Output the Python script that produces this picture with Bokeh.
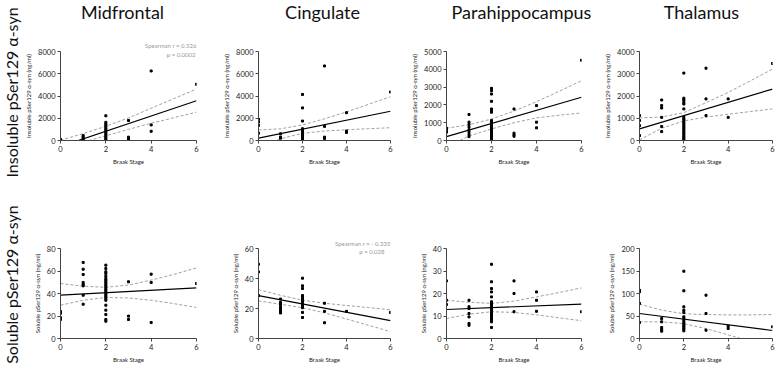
from bokeh.plotting import figure
from bokeh.models import Range1d, FixedTicker, SingleIntervalTicker, Title, Label
from bokeh.layouts import column, row
from bokeh.embed import file_html
from bokeh.resources import INLINE
import math

# ---------------- data ----------------
regions = ["Midfrontal", "Cingulate", "Parahippocampus", "Thalamus"]
row_labels = ["Insoluble pSer129 \u03b1-syn", "Soluble pSer129 \u03b1-syn"]
x_label = "Braak Stage"
y_labels = ["Insoluble pSer129 \u03b1-syn (ng/ml)", "Soluble pSer129 \u03b1-syn (ng/ml)"]
x_ticks = [0, 2, 4, 6]
ci_x = [0, 1, 2, 3, 4, 5, 6]
fit_x = [0, 6]

# Insoluble, Midfrontal
mid_ins_x = [0, 1, 1, 1, 1, 2, 2, 2, 2, 2, 2, 2, 2, 2, 2, 2, 2, 2, 3, 3, 3, 4, 4, 4, 6]
mid_ins_y = [100, 440, 300, 150, 60, 2220, 1630, 1480, 1330, 1190, 1040, 890, 740, 590, 440, 300, 150, 0,
             1800, 300, 120, 6250, 1400, 830, 5050]
mid_ins_fit = [-541, 3570]
mid_ins_up = [20, 620, 1280, 2030, 2900, 3760, 4620]
mid_ins_lo = [-900, -150, 420, 1000, 1550, 2050, 2550]

# Insoluble, Cingulate
cin_ins_x = [0, 0, 0, 0, 1, 1, 1, 2, 2, 2, 2, 2, 2, 2, 2, 2, 2, 2, 3, 3, 3, 3, 4, 4, 4, 6]
cin_ins_y = [1900, 1660, 1360, 660, 600, 300, 210, 4140, 2930, 1750, 1060, 900, 755, 600, 450, 300, 210, 90,
             6700, 1270, 300, 180, 2500, 850, 725, 4360]
cin_ins_fit = [210, 2630]
cin_ins_up = [950, 1050, 1400, 1950, 2570, 3250, 3940]
cin_ins_lo = [-500, 150, 650, 850, 970, 1060, 1150]

# Insoluble, Parahippocampus
par_ins_x = [0, 0, 0, 1, 1, 1, 1, 1, 1, 1, 1,
             2, 2, 2, 2, 2, 2, 2, 2, 2, 2, 2, 2, 2, 2, 2, 2, 2, 2, 2, 2,
             3, 3, 3, 3, 4, 4, 4, 6]
par_ins_y = [690, 560, 470, 1460, 1030, 900, 750, 600, 470, 340, 220,
             2930, 2800, 2610, 2200, 1770, 1680, 1590, 1120, 1030, 930, 840, 750, 650, 560, 470, 370, 280, 190, 90, 40,
             1770, 410, 320, 240, 1960, 1030, 710, 4510]
par_ins_fit = [220, 2430]
par_ins_up = [690, 880, 1210, 1650, 2180, 2760, 3360]
par_ins_lo = [-360, 250, 650, 1000, 1270, 1420, 1550]

# Insoluble, Thalamus
tha_ins_x = [0, 0, 0, 0, 1, 1, 1, 1, 1, 1,
             2, 2, 2, 2, 2, 2, 2, 2, 2, 2, 2, 2, 2, 2, 2, 2, 2, 2, 2, 2, 2,
             3, 3, 3, 4, 4, 6]
tha_ins_y = [1120, 900, 670, 220, 1820, 1570, 1460, 1040, 630, 400,
             3030, 1900, 1820, 1720, 1640, 1420, 1040, 970, 900, 820, 750, 670, 600, 520, 450, 370, 300, 220, 150, 75, 30,
             3250, 1870, 1120, 1870, 1040, 3460]
tha_ins_fit = [520, 2310]
tha_ins_up = [1010, 1060, 1250, 1700, 2160, 2680, 3210]
tha_ins_lo = [30, 550, 880, 1050, 1180, 1300, 1420]

# Soluble, Midfrontal
mid_sol_x = [0, 0, 0, 0, 1, 1, 1, 1, 1, 1, 1, 1,
             2, 2, 2, 2, 2, 2, 2, 2, 2, 2, 2, 2, 2, 2, 2, 2, 2, 2, 2, 2, 2, 2, 2, 2,
             3, 3, 3, 4, 4, 4, 6]
mid_sol_y = [24, 22.5, 18.5, 17, 67.6, 61.6, 56.9, 49.8, 48, 46.8, 38.5, 30.5,
             65.2, 62.2, 59.3, 57.8, 55.4, 53.3, 51.9, 50.4, 48.9, 47.4, 45.9, 44.4, 43, 41.5, 40, 38.5, 37, 35.6,
             34, 29.6, 25.2, 21.3, 16.9, 15.4,
             50.4, 19.9, 16.9, 57.2, 49.8, 14.2, 48.9]
mid_sol_fit = [38.5, 45]
mid_sol_up = [48.9, 46.5, 45.5, 47.5, 51.9, 57, 62.8]
mid_sol_lo = [29.6, 34, 36.5, 36, 34, 31, 27.6]

# Soluble, Cingulate
cin_sol_x = [0, 0, 0, 1, 1, 1, 1, 1, 1, 1, 1,
             2, 2, 2, 2, 2, 2, 2, 2, 2, 2, 2, 2, 2,
             3, 3, 3, 4, 6]
cin_sol_y = [49.5, 44.4, 28.6, 26.3, 24, 22.8, 21.2, 20, 19.3, 18.1, 17,
             40.2, 35.1, 33.3, 28.6, 27.4, 26.3, 24.9, 23.5, 22.8, 21.6, 20.5, 17.4, 14,
             23.5, 18.1, 10.5, 18.1, 17.4]
cin_sol_fit = [28.6, 11.9]
cin_sol_up = [32.6, 28.8, 25.5, 23.5, 22.0, 20.6, 19.2]
cin_sol_lo = [25.1, 22.8, 20.5, 17.1, 13.0, 8.8, 4.6]

# Soluble, Parahippocampus
par_sol_x = [0, 0, 0, 1, 1, 1, 1, 1, 1, 1,
             2, 2, 2, 2, 2, 2, 2, 2, 2, 2, 2, 2, 2, 2, 2, 2, 2, 2, 2,
             3, 3, 3, 4, 4, 4, 6]
par_sol_y = [25.6, 17, 15.1, 17, 14.1, 13.3, 11.1, 9.6, 6.7, 5.9,
             33, 25.2, 22.2, 20.7, 18.5, 16.3, 15.6, 14.8, 14.1, 13.3, 12.6, 11.9, 11.1, 10.4, 9.6, 8.9, 8.1, 7.4, 4.9,
             25.6, 20, 11.9, 20.7, 17, 12.1, 11.9]
par_sol_fit = [12.9, 15.3]
par_sol_up = [17, 16.1, 15.6, 16.6, 18.5, 20.4, 22.5]
par_sol_lo = [8.9, 10.8, 11.9, 11.6, 10.5, 9.2, 7.9]

# Soluble, Thalamus
tha_sol_x = [0, 0, 0, 0, 1, 1, 1, 1, 1,
             2, 2, 2, 2, 2, 2, 2, 2, 2, 2, 2, 2, 2, 2,
             3, 3, 3, 4, 4, 6]
tha_sol_y = [107, 104, 78, 35.6, 44.4, 37, 24.4, 20, 16.3,
             149.6, 106, 70.4, 63, 57.8, 48.1, 44.4, 39.3, 34.8, 31.1, 27.4, 24.4, 20.7, 17,
             96.3, 55.6, 18.5, 27.4, 22.2, 25.9]
tha_sol_fit = [55.6, 17.8]
tha_sol_up = [76.3, 63, 55, 53, 52.5, 52.5, 53.3]
tha_sol_lo = [37, 37, 33, 22, 8, -6, -20]

y_tops = [[8000, 8000, 5000, 4000], [80, 60, 40, 200]]
y_steps = [[2000, 2000, 1000, 1000], [20, 20, 10, 50]]
stats = {(0, 0): ["Spearman r = 0.526", "p = 0.0002"],
         (1, 1): ["Spearman r = - 0.335", "p = 0.028"]}

panels = [
    [(mid_ins_x, mid_ins_y, mid_ins_fit, mid_ins_up, mid_ins_lo),
     (cin_ins_x, cin_ins_y, cin_ins_fit, cin_ins_up, cin_ins_lo),
     (par_ins_x, par_ins_y, par_ins_fit, par_ins_up, par_ins_lo),
     (tha_ins_x, tha_ins_y, tha_ins_fit, tha_ins_up, tha_ins_lo)],
    [(mid_sol_x, mid_sol_y, mid_sol_fit, mid_sol_up, mid_sol_lo),
     (cin_sol_x, cin_sol_y, cin_sol_fit, cin_sol_up, cin_sol_lo),
     (par_sol_x, par_sol_y, par_sol_fit, par_sol_up, par_sol_lo),
     (tha_sol_x, tha_sol_y, tha_sol_fit, tha_sol_up, tha_sol_lo)],
]

# ---------------- layout / style ----------------
FONT = "Lato"
LABEL_W = 22          # strip with the row labels
TITLE_H = 22          # strip with the column titles
TOTAL_H = 370
col_frame = [136, 132, 135, 133]
col_left = [38, 58, 52, 54]
col_right = [4, 4, 4, 5]
row_frame = [89, 90]
row_top = [29, 63]
row_bottom = [45, 32]
row_label_y = [278, 86]                     # centre of each row label, px from strip bottom
title_cx = [100, 300, 499, 679]             # centre of each column title, px from strip left
AXIS_COL = "#444444"
CI_COL = "#a0a0a0"
STAT_COL = "#999999"
GRID_W = sum(col_left) + sum(col_frame) + sum(col_right)

# strip with the two big row labels
lab = figure(width=LABEL_W, height=TOTAL_H, output_backend="svg", toolbar_location=None,
             x_range=Range1d(0, LABEL_W), y_range=Range1d(0, TOTAL_H),
             x_axis_type=None, y_axis_type=None, min_border=0, title=None)
lab.outline_line_color = None
lab.grid.visible = False
for txt, yp in zip(row_labels, row_label_y):
    lab.add_layout(Label(x=11, y=yp, text=txt, angle=math.pi / 2, text_align="center",
                         text_baseline="middle", text_font=FONT, text_font_size="16px",
                         text_color="#111111"))

# strip with the column titles
tit = figure(width=GRID_W, height=TITLE_H, output_backend="svg", toolbar_location=None,
             x_range=Range1d(0, GRID_W), y_range=Range1d(0, TITLE_H),
             x_axis_type=None, y_axis_type=None, min_border=0, title=None)
tit.outline_line_color = None
tit.grid.visible = False
for txt, xc in zip(regions, title_cx):
    tit.add_layout(Label(x=xc, y=TITLE_H - 11, text=txt, text_align="center", text_baseline="middle",
                         text_font=FONT, text_font_size="18px", text_color="#111111"))

rows = [tit]
for r in range(2):
    figs = []
    for c in range(4):
        xs, ys, fit, up, lo = panels[r][c]
        p = figure(frame_width=col_frame[c], frame_height=row_frame[r],
                   output_backend="svg", toolbar_location=None,
                   x_range=Range1d(0, 6), y_range=Range1d(0, y_tops[r][c]), title=None,
                   min_border_left=col_left[c], min_border_right=col_right[c],
                   min_border_top=row_top[r], min_border_bottom=row_bottom[r])
        p.outline_line_color = None
        p.grid.visible = False
        p.xaxis.ticker = FixedTicker(ticks=x_ticks)
        p.yaxis.ticker = SingleIntervalTicker(interval=y_steps[r][c], num_minor_ticks=0)
        for ax in (p.xaxis[0], p.yaxis[0]):
            ax.axis_line_color = AXIS_COL
            ax.major_tick_line_color = AXIS_COL
            ax.major_tick_out = 3
            ax.major_tick_in = 0
            ax.minor_tick_line_color = None
            ax.major_label_text_font = FONT
            ax.major_label_text_font_size = "7.5px"
            ax.major_label_text_color = "#222222"
            ax.major_label_standoff = 2
            ax.axis_label_text_font = FONT
            ax.axis_label_text_font_size = "6px"
            ax.axis_label_text_font_style = "normal"
            ax.axis_label_text_color = "#222222"
            ax.axis_label_standoff = 3
        p.xaxis.axis_label = x_label
        p.yaxis.axis_label = y_labels[r]

        if (r, c) in stats:
            s1, s2 = stats[(r, c)]
            p.add_layout(Label(x=6, y=y_tops[r][c], text=s2, text_align="right", text_baseline="middle",
                               x_offset=-1 if r == 0 else -6, y_offset=-3,
                               text_font=FONT, text_font_size="6px", text_color=STAT_COL))
            p.add_layout(Title(text=s1, align="right", text_font=FONT, text_font_size="6px",
                               text_font_style="normal", text_color=STAT_COL,
                               standoff=6 if r == 0 else 4), "above")

        p.line(ci_x, up, line_color=CI_COL, line_dash="3 2", line_width=1)
        p.line(ci_x, lo, line_color=CI_COL, line_dash="3 2", line_width=1)
        p.line(fit_x, fit, line_color="black", line_width=1.2)
        p.scatter(xs, ys, marker="square", size=2.0, color="black")
        figs.append(p)
    rows.append(row(*figs))

layout = row(lab, column(*rows))
open("out.html", "w").write(file_html(layout, INLINE))
